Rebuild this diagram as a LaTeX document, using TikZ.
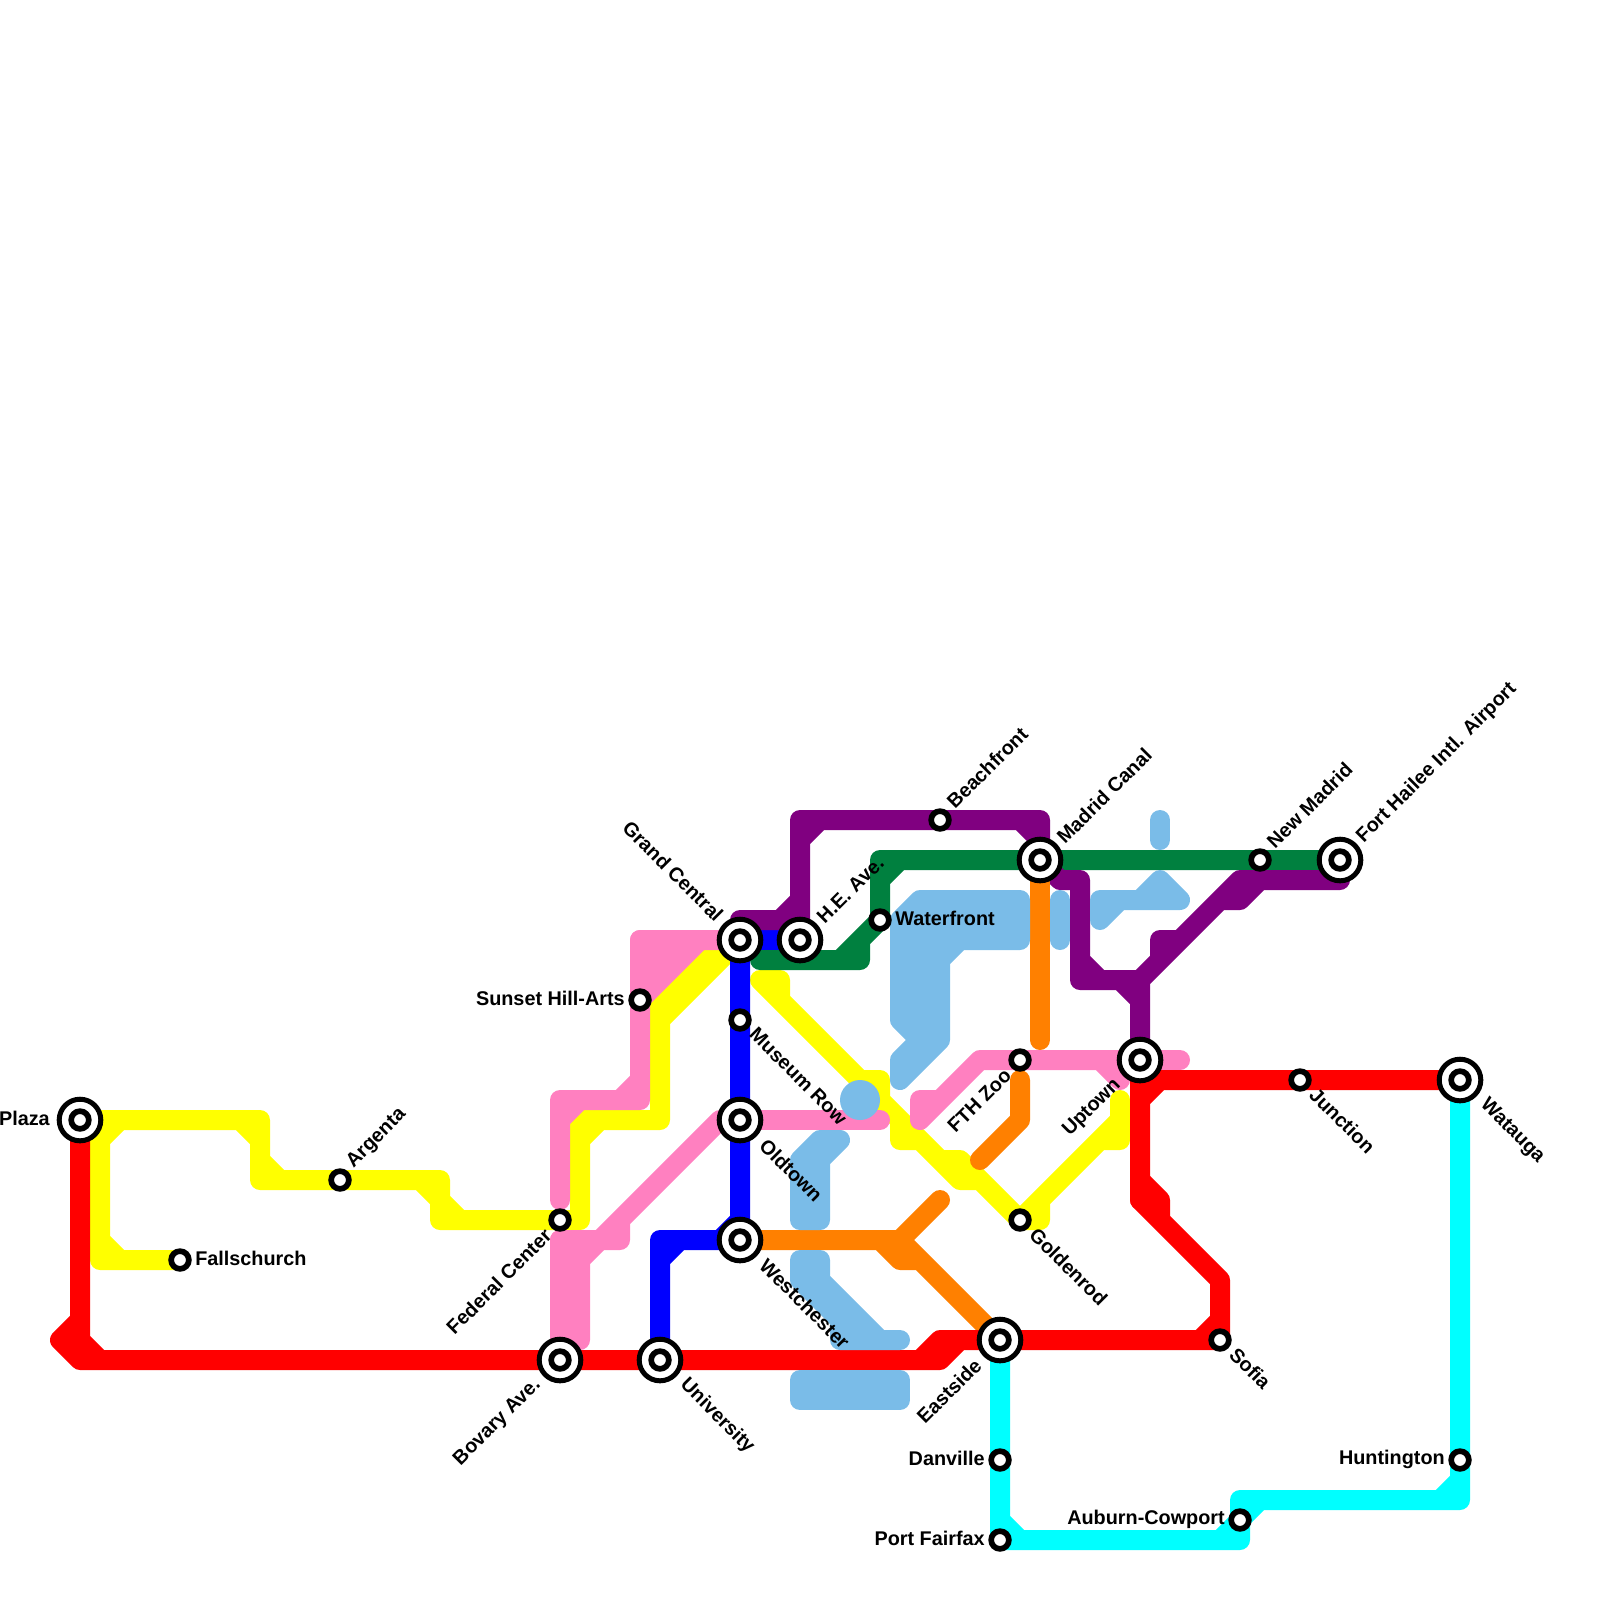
\documentclass[tikz,border=0pt]{standalone}
\usepackage{fontspec}
\setmainfont{Liberation Sans}
\usetikzlibrary{backgrounds}
\definecolor{mred}{HTML}{FF0000}
\definecolor{mblue}{HTML}{0000FF}
\definecolor{mcyan}{HTML}{00FFFF}
\definecolor{myellow}{HTML}{FFFF00}
\definecolor{mpurple}{HTML}{800080}
\definecolor{mgreen}{HTML}{00803F}
\definecolor{morange}{HTML}{FF8000}
\definecolor{mpink}{HTML}{FF80C0}
\definecolor{msky}{HTML}{7ABCE8}

\begin{document}
\begin{tikzpicture}[x=.5cm,y=-.5cm,
  metro/.style={line width=.5cm,line cap=round,line join=round},
  stop/.style={circle,draw=black,fill=white,line width=.1425cm,inner sep=0pt,minimum size=.4425cm},
  bigstop/.style={circle,draw=black,fill=white,line width=.125cm,inner sep=0pt,minimum size=1.04cm,
    path picture={\draw[line width=.1425cm] (path picture bounding box.center) circle (.221cm);}},
  lab/.style={font=\fontsize{14.1}{17}\selectfont\bfseries,inner sep=0pt},
  ne/.style={lab,rotate=45,anchor=west},
  se/.style={lab,rotate=-45,anchor=west},
  sw/.style={lab,rotate=45,anchor=east},
  nw/.style={lab,rotate=-45,anchor=east},
  ea/.style={lab,anchor=west},
  we/.style={lab,anchor=east}]
\useasboundingbox (0,0) rectangle (80,80);

\node[bigstop] (plaza) at (4,56) {};
\node[stop] (fallschurch) at (9,63) {};
\node[stop] (argenta) at (17,59) {};
\node[stop] (federal) at (28,61) {};
\node[bigstop] (bovary) at (28,68) {};
\node[bigstop] (university) at (33,68) {};
\node[stop] (sunset) at (32,50) {};
\node[bigstop] (grand) at (37,47) {};
\node[stop] (museum) at (37,51) {};
\node[bigstop] (oldtown) at (37,56) {};
\node[bigstop] (westchester) at (37,62) {};
\node[bigstop] (heave) at (40,47) {};
\node[stop] (waterfront) at (44,46) {};
\node[stop] (beachfront) at (47,41) {};
\node[bigstop] (madrid) at (52,43) {};
\node[stop] (fthzoo) at (51,53) {};
\node[stop] (goldenrod) at (51,61) {};
\node[bigstop] (uptown) at (57,53) {};
\node[stop] (newmadrid) at (63,43) {};
\node[bigstop] (hailee) at (67,43) {};
\node[stop] (junction) at (65,54) {};
\node[bigstop] (watauga) at (73,54) {};
\node[stop] (sofia) at (61,67) {};
\node[bigstop] (eastside) at (50,67) {};
\node[stop] (danville) at (50,73) {};
\node[stop] (fairfax) at (50,77) {};
\node[stop] (auburn) at (62,76) {};
\node[stop] (huntington) at (73,73) {};

\begin{scope}[on background layer]
  \draw[metro,myellow] (plaza.center) -- (13,56) -- (13,59) -- (argenta.center) -- (22,59) -- (22,61)
    -- (federal.center) -- (29,61) -- (29,56) -- (33,56) -- (33,50) -- (35,48) -- (36,48)
    (12,56) -- (13,57) (13,58) -- (14,59) (21,59) -- (22,60) (22,60) -- (23,61)
    (29,57) -- (30,56) (33,51) -- (grand.center);
  \draw[metro,myellow] (plaza.center) -- (5,56) -- (5,63) -- (fallschurch.center)
    (5,57) -- (6,56) (5,62) -- (6,63);
  \draw[metro,myellow] (38,49) -- (39,49) -- (39,50) -- (47,58) -- (48,58) -- (49,59) -- (goldenrod.center)
    -- (52,61) -- (52,60)
    (38,49) -- (39,50) (43,54) -- (44,54) -- (44,55)
    (45,56) -- (45,57) -- (46,57) (47,58) -- (48,59) -- (49,59)
    (goldenrod.center) -- (56,56) (55,57) -- (56,57) -- (56,55);

  \draw[metro,mpink,fill=mpink] (35,47) -- (32,47) -- (32,50) -- cycle;
  \draw[metro,mpink] (grand.center) -- (32,47) -- (sunset.center) -- (32,55) -- (28,55) -- (28,60)
    (32,54) -- (31,55) (28,56) -- (29,55);
  \draw[metro,mpink,fill=mpink] (28,62) -- (30,62) -- (29,63) -- (29,67) -- (28,67) -- cycle;
  \draw[metro,mpink] (bovary.center) -- (28,62) -- (31,62) -- (31,61)
    (oldtown.center) -- (36,56) -- (30,62);
  \draw[metro,mpink] (oldtown.center) -- (44,56);
  \draw[metro,mpink] (47,55) -- (46,55) -- (46,56) -- (49,53) -- (fthzoo.center) -- (uptown.center) -- (59,53)
    (55,53) -- (56,54);

  \draw[metro,mblue] (grand.center) -- (museum.center) -- (oldtown.center) -- (westchester.center)
    -- (33,62) -- (university.center)
    (grand.center) -- (heave.center) (33,63) -- (34,62) (37,61) -- (36,62);

  \draw[metro,mgreen] (38,48) -- (43,48) -- (43,47) -- (waterfront.center) -- (44,43) -- (madrid.center)
    -- (newmadrid.center) -- (hailee.center)
    (42,48) -- (waterfront.center) (44,44) -- (45,43);

  \draw[metro,mpurple] (37,46) -- (39,46) -- (40,45) -- (40,41) -- (beachfront.center) -- (52,41) -- (madrid.center)
    (39,46) -- (40,46) (40,45) -- (heave.center) (40,42) -- (41,41) (51,41) -- (52,42);
  \draw[metro,mpurple] (madrid.center) -- (53,44) -- (54,44) -- (54,49) -- (57,49) -- (uptown.center)
    (54,48) -- (55,49) (56,49) -- (57,50)
    (57,49) -- (62,44) -- (67,44) -- (hailee.center)
    (58,48) -- (58,47) -- (59,47) (61,45) -- (62,45) -- (63,44);

  \draw[metro,morange] (madrid.center) -- (52,52);
  \draw[metro,morange] (51,54) -- (51,56) -- (49,58);
  \draw[metro,morange] (westchester.center) -- (45,62) -- (47,60)
    (45,62) -- (eastside.center) (44,62) -- (45,63) -- (46,63);

  \draw[metro,mred] (plaza.center) -- (4,67) -- (3,67) -- (4,68) -- (bovary.center) -- (university.center)
    -- (46,68) -- (47,67) -- (eastside.center) -- (sofia.center) -- (61,64) -- (58,61) -- (58,60) -- (57,59)
    (4,66) -- (3,67) (4,67) -- (5,68) (4,67) -- (4,68)
    (46,68) -- (47,68) -- (48,67) (47,68) -- (47,67)
    (61,66) -- (60,67) (57,60) -- (58,61) (57,60) -- (58,60);
  \draw[metro,mred] (uptown.center) -- (57,60) (57,54) -- (junction.center) -- (watauga.center) (57,55) -- (58,54);

  \draw[metro,mcyan] (watauga.center) -- (huntington.center) -- (73,75) -- (62,75) -- (auburn.center) -- (62,77)
    -- (fairfax.center) -- (danville.center) -- (eastside.center)
    (73,74) -- (72,75) (auburn.center) -- (63,75) (61,77) -- (auburn.center) (50,76) -- (51,77);

  \draw[metro,msky,fill=msky] (45,46) -- (46,45) -- (51,45) -- (51,47) -- (48,47) -- (47,48) -- (47,52)
    -- (45,54) -- (45,53) -- (46,52) -- (45,51) -- cycle;
  \draw[metro,msky] (53,45) -- (53,47);
  \draw[metro,msky] (55,46) -- (55,45) -- (59,45) -- (58,44) -- (57,45) (55,46) -- (56,45);
  \draw[metro,msky] (58,41) -- (58,42);
  \fill[msky] (43,55) circle (1);
  \draw[metro,msky,fill=msky] (41,57) -- (42,57) -- (41,58) -- (41,61) -- (40,61) -- (40,58) -- cycle;
  \draw[metro,msky,fill=msky] (40,63) -- (41,63) -- (41,64) -- (44,67) -- (45,67) -- (42,67) -- (42,66) -- (40,64) -- cycle;
  \draw[metro,msky,fill=msky] (40,69) -- (45,69) -- (45,70) -- (40,70) -- cycle;
\end{scope}

\node[we] (lplaza) at ([shift={(-1.5,-.1)}]plaza.center) {Plaza};
\node[ea] (lfallschurch) at ([shift={(.75,-.1)}]fallschurch.center) {Fallschurch};
\node[ne] (largenta) at ([shift={(.5,-.75)}]argenta.center) {Argenta};
\node[sw] (lfederal) at ([shift={(-.6,.6)}]federal.center) {Federal Center};
\node[sw] (lbovary) at ([shift={(-1.1,1.1)}]bovary.center) {Bovary Ave.};
\node[se] (luniversity) at ([shift={(1.15,1.1)}]university.center) {University};
\node[we] (lsunset) at ([shift={(-.75,-.1)}]sunset.center) {Sunset Hill-Arts};
\node[nw] (lgrand) at ([shift={(-1,-1.1)}]grand.center) {Grand Central};
\node[se] (lmuseum) at ([shift={(.65,.55)}]museum.center) {Museum Row};
\node[se] (loldtown) at ([shift={(1.15,1.1)}]oldtown.center) {Oldtown};
\node[se] (lwestchester) at ([shift={(1.15,1.1)}]westchester.center) {Westchester};
\node[ne] (lheave) at ([shift={(1,-1)}]heave.center) {H.E. Ave.};
\node[ea] (lwaterfront) at ([shift={(.75,-.1)}]waterfront.center) {Waterfront};
\node[ne] (lbeachfront) at ([shift={(.5,-.75)}]beachfront.center) {Beachfront};
\node[ne] (lmadrid) at ([shift={(1,-1)}]madrid.center) {Madrid Canal};
\node[sw] (lfthzoo) at ([shift={(-.6,.6)}]fthzoo.center) {FTH Zoo};
\node[se] (lgoldenrod) at ([shift={(.65,.55)}]goldenrod.center) {Goldenrod};
\node[sw] (luptown) at ([shift={(-1.1,1.1)}]uptown.center) {Uptown};
\node[ne] (lnewmadrid) at ([shift={(.5,-.75)}]newmadrid.center) {New Madrid};
\node[ne] (lhailee) at ([shift={(1,-1)}]hailee.center) {Fort Hailee Intl. Airport};
\node[se] (ljunction) at ([shift={(.65,.55)}]junction.center) {Junction};
\node[se] (lwatauga) at ([shift={(1.15,1.1)}]watauga.center) {Watauga};
\node[se] (lsofia) at ([shift={(.65,.55)}]sofia.center) {Sofia};
\node[sw] (leastside) at ([shift={(-1.1,1.1)}]eastside.center) {Eastside};
\node[we] (ldanville) at ([shift={(-.75,-.1)}]danville.center) {Danville};
\node[we] (lfairfax) at ([shift={(-.75,-.1)}]fairfax.center) {Port Fairfax};
\node[we] (lauburn) at ([shift={(-.75,-.05)}]auburn.center) {Auburn-Cowport};
\node[we] (lhuntington) at ([shift={(-.75,-.05)}]huntington.center) {Huntington};
\end{tikzpicture}
\end{document}
